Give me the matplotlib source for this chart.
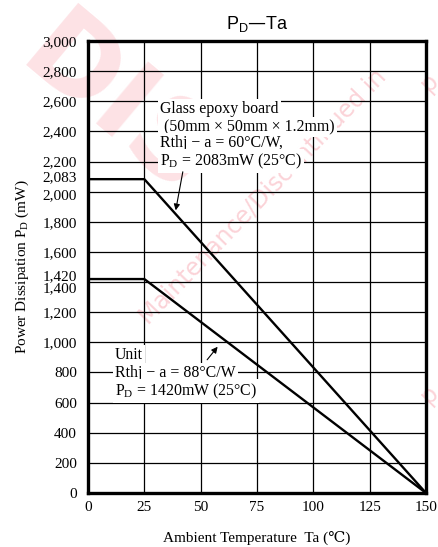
import matplotlib
matplotlib.use("Agg")
import matplotlib.pyplot as plt
from matplotlib.transforms import ScaledTranslation

# Data
temp_glass = [0, 25, 150]
pd_glass = [2083, 2083, 0]
temp_unit = [0, 25, 150]
pd_unit = [1420, 1420, 0]
x_ticks = [0, 25, 50, 75, 100, 125, 150]
y_ticks = [0, 200, 400, 600, 800, 1000, 1200, 1400, 1420, 1600, 1800, 2000, 2083,
           2200, 2400, 2600, 2800, 3000]
y_tick_labels = ["0", "200", "400", "600", "800", "1,000", "1,200", "1,400", "1,420",
                 "1,600", "1,800", "2,000", "2,083", "2,200", "2,400", "2,600", "2,800", "3,000"]
grid_x = [25, 50, 75, 100, 125]
grid_y = [200 * i for i in range(1, 15)]

glass_lines = ["Glass epoxy board",
               " (50mm \u00d7 50mm \u00d7 1.2mm)",
               "Rthj \u2212 a = 60\u00b0C/W,",
               "P$_\\mathregular{D}$ = 2083mW (25\u00b0C)"]
unit_lines = ["Unit",
              "Rthj \u2212 a = 88\u00b0C/W",
              "P$_\\mathregular{D}$ = 1420mW (25\u00b0C)"]

serif = ["Liberation Serif", "DejaVu Serif"]

fig = plt.figure(figsize=(4.38, 5.47), dpi=100)
ax = fig.add_axes([88 / 438, 1 - 493 / 547, (426 - 88) / 438, (493 - 41) / 547])
ax.set_zorder(2)
ax.set_facecolor("none")

# Watermark (faint)
pink = "#fbd3d8"
fig.text(0.0, 1.0, "DIS", fontsize=80, color="#fde2e5", rotation=-40,
         ha="left", va="top", family="DejaVu Sans", fontweight="bold", zorder=0)
fig.text(0.60, 0.64, "Maintenance/Discontinued in", fontsize=17, color=pink,
         rotation=46, ha="center", va="center", family="DejaVu Sans", zorder=0)
fig.text(0.98, 0.85, "p", fontsize=17, color=pink, rotation=46,
         ha="center", va="center", family="DejaVu Sans", zorder=0)
fig.text(0.98, 0.28, "p", fontsize=17, color=pink, rotation=46,
         ha="center", va="center", family="DejaVu Sans", zorder=0)

ax.set_xlim(0, 150)
ax.set_ylim(0, 3000)

ax.vlines(grid_x, 0, 3000, colors="black", lw=0.9, zorder=1)
ax.hlines(grid_y, 0, 150, colors="black", lw=0.9, zorder=1)

ax.plot(temp_glass, pd_glass, color="black", lw=1.7, zorder=5)
ax.plot(temp_unit, pd_unit, color="black", lw=1.7, zorder=5)

for s in ax.spines.values():
    s.set_linewidth(2.4)
    s.set_zorder(6)

ax.set_xticks(x_ticks)
ax.set_xticklabels([str(v) for v in x_ticks], family=serif, fontsize=11)
ax.set_yticks(y_ticks)
ax.set_yticklabels(y_tick_labels, family=serif, fontsize=11)
ax.tick_params(length=0, pad=8)
ax.tick_params(axis="x", pad=6)

shifts = {2083: 2.5, 2000: -2.0, 1420: 3.0, 1400: -3.5}
for lbl, v in zip(ax.get_yticklabels(), y_ticks):
    if v in shifts:
        lbl.set_transform(lbl.get_transform() +
                          ScaledTranslation(0, shifts[v] / 72, fig.dpi_scale_trans))

ax.set_xlabel("Ambient Temperature  Ta (\u2103)", family=serif, fontsize=11, labelpad=12)
ax.set_ylabel("Power Dissipation P$_\\mathregular{D}$ (mW)", family=serif, fontsize=11, labelpad=8)
ax.set_title("P$_\\mathregular{D}$\u2014Ta", family="Liberation Sans", fontsize=13, pad=9)

glass_y = [2549, 2429, 2323, 2204]
for t, yy in zip(glass_lines, glass_y):
    ax.text(32, yy, t, family="Liberation Serif", fontsize=11.4, va="center", ha="left",
            zorder=4, bbox=dict(facecolor="white", edgecolor="none", pad=1.5))
unit_y = [916, 796, 677]
for t, yy in zip(unit_lines, unit_y):
    ax.text(12, yy, t, family="Liberation Serif", fontsize=11.4, va="center", ha="left",
            zorder=4, bbox=dict(facecolor="white", edgecolor="none", pad=1.5))

ax.annotate("", xy=(38.7, 1858), xytext=(42.3, 2150),
            arrowprops=dict(arrowstyle="-|>", color="black", lw=0.8, mutation_scale=9), zorder=5)
ax.annotate("", xy=(58.3, 985), xytext=(52.1, 870),
            arrowprops=dict(arrowstyle="-|>", color="black", lw=0.8, mutation_scale=9), zorder=5)

fig.savefig("out.png", dpi=100)
